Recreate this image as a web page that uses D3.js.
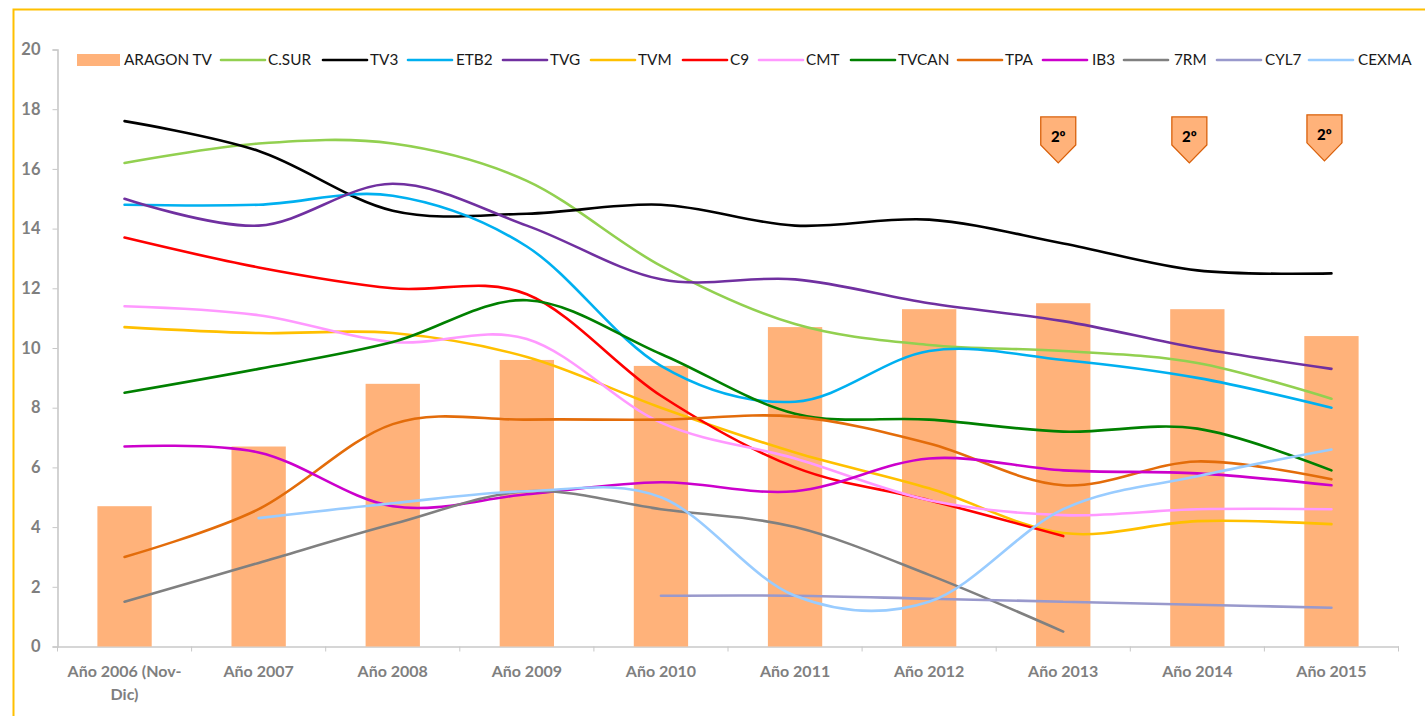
<!DOCTYPE html>
<html><head><meta charset="utf-8">
<script src="https://cdn.jsdelivr.net/npm/d3@7/dist/d3.min.js"></script>
<style>html,body{margin:0;padding:0;background:#fff}svg{display:block}text{font-family:Lato,"Open Sans",sans-serif}</style>
</head><body><div id="c"></div>
<script>
const categories=["Año 2006 (Nov-Dic)","Año 2007","Año 2008","Año 2009","Año 2010","Año 2011","Año 2012","Año 2013","Año 2014","Año 2015"];
const yTicks=[0,2,4,6,8,10,12,14,16,18,20];
const aragon=[4.7,6.7,8.8,9.6,9.4,10.7,11.3,11.5,11.3,10.4];
const csur=[16.2,16.85,16.85,15.6,12.75,10.8,10.1,9.9,9.5,8.3];
const tv3=[17.6,16.6,14.6,14.5,14.8,14.1,14.3,13.5,12.6,12.5];
const etb2=[14.8,14.8,15.1,13.4,9.4,8.2,9.9,9.6,9.0,8.0];
const tvg=[15,14.1,15.5,14.1,12.3,12.3,11.5,10.9,10,9.3];
const tvm=[10.7,10.5,10.5,9.7,8.0,6.5,5.3,3.8,4.2,4.1];
const c9=[13.7,12.7,12.0,11.8,8.4,6.0,4.9,3.7,null,null];
const cmt=[11.4,11.1,10.2,10.3,7.5,6.3,4.9,4.4,4.6,4.6];
const tvcan=[8.5,9.3,10.2,11.6,9.8,7.8,7.6,7.2,7.3,5.9];
const tpa=[3,4.6,7.45,7.6,7.6,7.7,6.8,5.4,6.2,5.6];
const ib3=[6.7,6.5,4.7,5.1,5.5,5.2,6.3,5.9,5.8,5.4];
const rm7=[1.5,2.8,4.1,5.2,4.6,4.0,2.4,0.5,null,null];
const cyl7=[null,null,null,null,1.7,1.7,1.6,1.5,1.4,1.3];
const cexma=[null,4.3,4.8,5.2,5.0,1.7,1.5,4.6,5.7,6.6];
const lineNames=["C.SUR","TV3","ETB2","TVG","TVM","C9","CMT","TVCAN","TPA","IB3","7RM","CYL7","CEXMA"];
const lineValues=[csur,tv3,etb2,tvg,tvm,c9,cmt,tvcan,tpa,ib3,rm7,cyl7,cexma];
const lineColors=["#92d050","#000000","#00b0f0","#7030a0","#ffc000","#ff0000","#ff99ff","#008000","#e36c0a","#cc00cc","#808080","#9999cc","#99ccff"];
const legendX=[77,221,323,408,503,591,683,759,851,958,1043,1124,1217,1309];
const legendTextX=[124,268,370,456,550,638,730,806,898,1005,1092,1174,1265,1358];
const badgeCategories=["Año 2013","Año 2014","Año 2015"];
const badgeLabels=["2º","2º","2º"];
const badgeTipValues=[16.2,16.2,16.27];
const badgeShift=[-5,-8,-7];

const W=1425,H=716;
const svg=d3.select("#c").append("svg").attr("width",W).attr("height",H);
svg.append("path").attr("d",`M13.5,716V9.5H1425`).attr("fill","none").attr("stroke","#ffc000").attr("stroke-width",2);

const x=d3.scaleBand().domain(categories).range([57.5,1398.5]).paddingInner(0.595).paddingOuter(0.2975);
const xStep=d3.scaleBand().domain(categories).range([57.5,1398.5]);
const cx=c=>xStep(c)+xStep.bandwidth()/2;
const y=d3.scaleLinear().domain([0,20]).range([646.5,49.5]);

// axes
const gy=svg.append("g").attr("transform","translate(57.5,0)").call(d3.axisLeft(y).tickValues(yTicks).tickSize(5).tickPadding(12).tickFormat(d3.format("d")));
gy.selectAll("text").attr("font-size",16.5).attr("font-weight",700).attr("fill","#7f7f7f").style("font-family","Lato");
const gx=svg.append("g").attr("transform","translate(0,646.5)").call(d3.axisBottom(xStep).tickSize(0).tickFormat(""));
gx.selectAll(".tick").remove();
gx.selectAll("line.t").data(categories.concat([null])).join("line").attr("class","t")
  .attr("x1",(d,i)=>57.5+i*xStep.step()).attr("x2",(d,i)=>57.5+i*xStep.step()).attr("y1",0).attr("y2",5).attr("stroke","#c8c8c8");
svg.selectAll(".domain").attr("stroke","#c8c8c8").attr("stroke-width",1.6);
gy.selectAll("line").attr("stroke","#c8c8c8");

const labelG=svg.append("g").attr("font-size",16).attr("font-weight",700).attr("fill","#7f7f7f").attr("text-anchor","middle");
categories.forEach(c=>{
  const lines=c.includes("(")?["Año 2006 (Nov-","Dic)"]:[c];
  lines.forEach((l,i)=>labelG.append("text").attr("x",cx(c)).attr("y",677+i*23).text(l));
});

// bars
svg.append("g").selectAll("rect").data(aragon).join("rect")
 .attr("x",(d,i)=>x(categories[i])).attr("width",x.bandwidth())
 .attr("y",d=>y(d)).attr("height",d=>y(0)-y(d)).attr("fill","#ffb27a");

// lines
const line=d3.line().defined(d=>d[1]!==null).x(d=>cx(d[0])).y(d=>y(d[1])).curve(d3.curveCardinal.tension(0));
lineValues.forEach((vals,k)=>{
  const pts=vals.map((v,i)=>[categories[i],v]).filter(d=>d[1]!==null);
  svg.append("path").datum(pts).attr("d",line).attr("fill","none").attr("stroke",lineColors[k]).attr("stroke-width",2.6).attr("stroke-linecap","round");
});

// legend
const lg=svg.append("g").attr("font-size",15.3).attr("fill","#1a1a1a");
const allNames=["ARAGON TV"].concat(lineNames);
allNames.forEach((n,i)=>{
  const lx=legendX[i];
  if(i===0) lg.append("rect").attr("x",lx).attr("y",54).attr("width",43).attr("height",12).attr("fill","#ffb27a");
  else lg.append("line").attr("x1",lx).attr("x2",lx+44).attr("y1",60).attr("y2",60).attr("stroke",lineColors[i-1]).attr("stroke-width",2.6).attr("stroke-linecap","round");
  lg.append("text").attr("x",legendTextX[i]).attr("y",65).text(n);
});

// badges
badgeCategories.forEach((c,i)=>{
  const bx=cx(c)+badgeShift[i], tip=y(badgeTipValues[i]);
  svg.append("path").attr("d",`M${bx-17.5},${tip-46}H${bx+17.5}V${tip-18}L${bx},${tip}L${bx-17.5},${tip-18}Z`)
    .attr("fill","#ffb27a").attr("stroke","#d9600a").attr("stroke-width",1.3);
  svg.append("text").attr("x",bx).attr("y",tip-21).attr("text-anchor","middle").attr("font-size",15).attr("font-weight",900).attr("fill","#000").text(badgeLabels[i]);
});
</script></body></html>
